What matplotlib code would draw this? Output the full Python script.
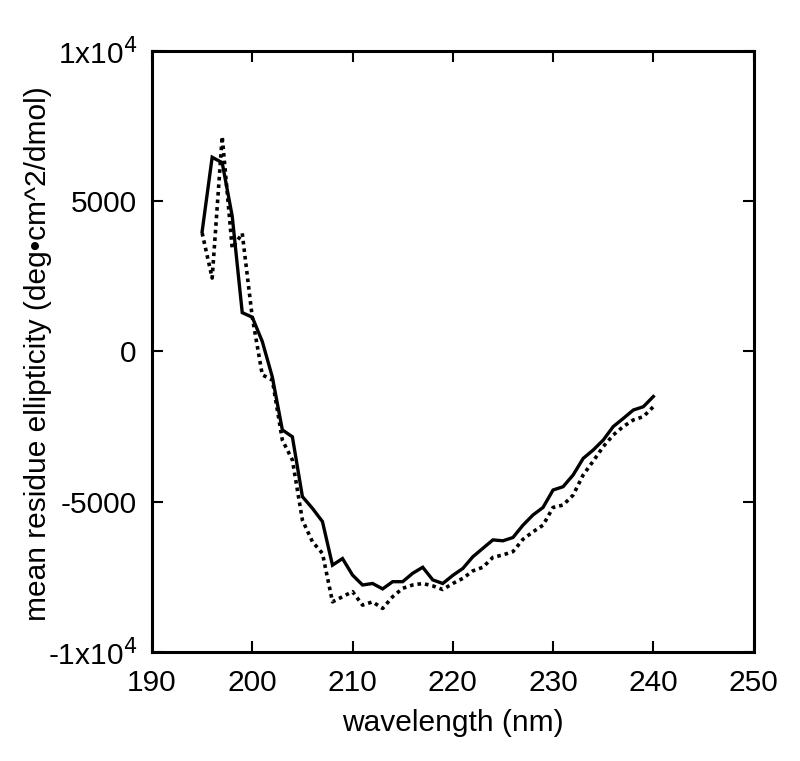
import matplotlib
matplotlib.use('Agg')
import matplotlib.pyplot as plt

plt.rcParams['font.family'] = ['Liberation Sans', 'DejaVu Sans']

# wavelength (nm), 195..240 in 1 nm steps
wavelength = list(range(195, 241))

# solid trace
mre_solid = [3990, 6460, 6280, 4500, 1290, 1140, 330, -850, -2610, -2840,
             -4830, -5220, -5660, -7110, -6890, -7440, -7770, -7720, -7900, -7660,
             -7660, -7380, -7180, -7600, -7720, -7450, -7220, -6830, -6550, -6270,
             -6300, -6190, -5780, -5440, -5190, -4610, -4500, -4110, -3560, -3280,
             -2950, -2500, -2230, -1950, -1840, -1500]

# dotted trace
mre_dotted = [3940, 2440, 7150, 3430, 3930, 1140, -780, -950, -2950, -3610,
              -5610, -6330, -6720, -8330, -8160, -7990, -8440, -8330, -8550, -8160,
              -7880, -7770, -7720, -7800, -7920, -7720, -7550, -7300, -7180, -6850,
              -6770, -6660, -6250, -6000, -5780, -5190, -5110, -4780, -4110, -3650,
              -3170, -2780, -2500, -2280, -2170, -1840]

xticks = [190, 200, 210, 220, 230, 240, 250]
yticks = [10000, 5000, 0, -5000, -10000]
ytick_labels = ['1x10$^4$', '5000', '0', '-5000', '-1x10$^4$']

fig = plt.figure(figsize=(8, 7.61), dpi=100)
ax = fig.add_axes([0.19, 0.1432, 0.752, 0.79])

ax.plot(wavelength, mre_solid, color='black', lw=2.4, solid_joinstyle='miter')
ax.plot(wavelength, mre_dotted, color='black', lw=2.6, linestyle=(0, (1, 1.1)))

ax.set_xlim(190, 250)
ax.set_ylim(-10000, 10000)
ax.set_xticks(xticks)
ax.set_yticks(yticks)
ax.set_yticklabels(ytick_labels)

for s in ax.spines.values():
    s.set_linewidth(2.2)
ax.tick_params(direction='in', length=8, width=1.5, top=True, right=True,
               labelsize=21.5, color='black')
ax.tick_params(axis='x', pad=12)
ax.tick_params(axis='y', pad=11)

ax.set_xlabel('wavelength (nm)', fontsize=21.5, va='center')
ax.set_ylabel('mean residue ellipticity (deg\u2022cm^2/dmol)', fontsize=21.5, va='center')
ax.xaxis.set_label_coords(0.5, -0.118)
ax.yaxis.set_label_coords(-0.19, 0.497)

fig.savefig('out.png', dpi=100)
